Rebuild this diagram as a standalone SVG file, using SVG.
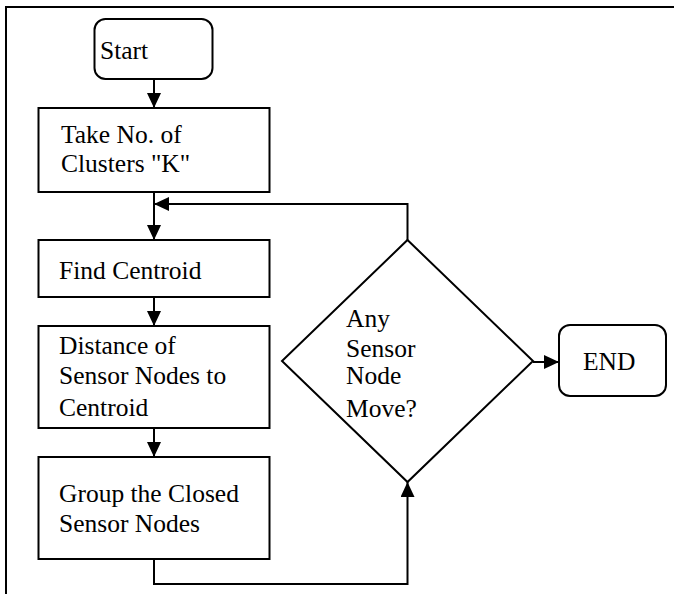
<svg xmlns="http://www.w3.org/2000/svg" width="674" height="594" viewBox="0 0 674 594">
<defs>
<marker id="arr" markerUnits="userSpaceOnUse" markerWidth="16" markerHeight="14" refX="15" refY="7" orient="auto">
<path d="M0,0 L15,7 L0,14 Z" fill="#000"/>
</marker>
<style>
.box{fill:#fff;stroke:#000;stroke-width:2}
.ln{fill:none;stroke:#000;stroke-width:2}
.t{font-family:'Liberation Serif','Times New Roman',serif;font-size:25.5px;fill:#000}
</style>
</defs>
<rect width="674" height="594" fill="#fff"/>
<path d="M6,594 V7 H674" fill="none" stroke="#000" stroke-width="2"/>
<g id="connectors">
<path class="ln" d="M154,79 V108" marker-end="url(#arr)"/>
<path class="ln" d="M154,192 V240" marker-end="url(#arr)"/>
<path class="ln" d="M154,297 V326" marker-end="url(#arr)"/>
<path class="ln" d="M154,428 V457" marker-end="url(#arr)"/>
<path class="ln" d="M154,559 V584 H407.5 V482" marker-end="url(#arr)"/>
<path class="ln" d="M407.5,240 V204 H154" marker-end="url(#arr)"/>
<path class="ln" d="M533,362 H559" marker-end="url(#arr)"/>
</g>
<g id="start">
<rect class="box" x="94.5" y="19" width="118" height="60" rx="11"/>
<text class="t" font-family="Liberation Serif, serif" x="100" y="59">Start</text>
</g>
<g id="take">
<rect class="box" x="38.5" y="108" width="231" height="84"/>
<text class="t" font-family="Liberation Serif, serif" x="61" y="143">Take No. of</text>
<text class="t" font-family="Liberation Serif, serif" x="61" y="172">Clusters "K"</text>
</g>
<g id="find">
<rect class="box" x="38.5" y="240" width="231" height="57"/>
<text class="t" font-family="Liberation Serif, serif" x="59" y="279">Find Centroid</text>
</g>
<g id="distance">
<rect class="box" x="38.5" y="326" width="231" height="102"/>
<text class="t" font-family="Liberation Serif, serif" x="59" y="354">Distance of</text>
<text class="t" font-family="Liberation Serif, serif" x="59" y="384">Sensor Nodes to</text>
<text class="t" font-family="Liberation Serif, serif" x="59" y="416">Centroid</text>
</g>
<g id="group">
<rect class="box" x="38.5" y="457" width="231" height="102"/>
<text class="t" font-family="Liberation Serif, serif" x="59" y="502">Group the Closed</text>
<text class="t" font-family="Liberation Serif, serif" x="59" y="532">Sensor Nodes</text>
</g>
<g id="decision">
<path class="box" d="M407.5,240 L533,361 L407.5,482 L282,361 Z"/>
<text class="t" font-family="Liberation Serif, serif" x="346" y="327">Any</text>
<text class="t" font-family="Liberation Serif, serif" x="346" y="357">Sensor</text>
<text class="t" font-family="Liberation Serif, serif" x="346" y="384">Node</text>
<text class="t" font-family="Liberation Serif, serif" x="346" y="417">Move?</text>
</g>
<g id="end">
<rect class="box" x="559" y="325" width="107" height="71" rx="11"/>
<text class="t" font-family="Liberation Serif, serif" x="583" y="370">END</text>
</g>
</svg>
